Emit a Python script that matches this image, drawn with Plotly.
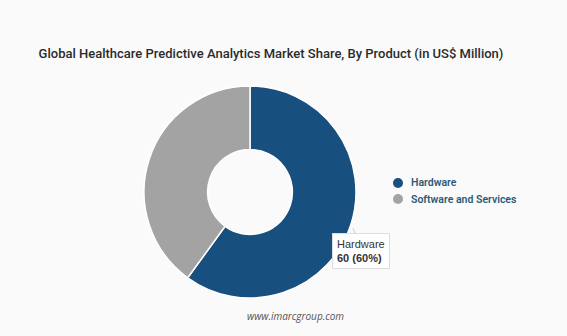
import plotly.graph_objects as go

labels = ["Hardware", "Software and Services"]
values = [60, 40]
colors = ["#174f7e", "#a3a3a3"]

W, H = 567, 336

fig = go.Figure()
fig.add_trace(go.Pie(
    labels=labels, values=values, hole=0.4, sort=False, direction="clockwise",
    rotation=0, marker=dict(colors=colors, line=dict(color="white", width=1.5)),
    textinfo="none", hoverinfo="label+value+percent", showlegend=False,
    domain=dict(x=[144/W, 356/W], y=[38/H, 250/H]),
))

fig.update_layout(
    width=W, height=H,
    margin=dict(l=0, r=0, t=0, b=0),
    paper_bgcolor="#fafafa", plot_bgcolor="#fafafa",
    title=dict(text="Global Healthcare Predictive Analytics Market Share, By Product (in US$ Million)",
               x=271/W, xanchor="center", y=1-53/H, yanchor="middle",
               font=dict(family="Roboto", size=13, color="#2b2b2b", weight=500)),
    showlegend=False,
)

# custom legend (circle markers)
for i, (lab, col) in enumerate(zip(labels, colors)):
    yc = 183 + 16 * i
    fig.add_shape(type="circle", xref="paper", yref="paper",
                  x0=(398-5)/W, x1=(398+5)/W, y0=1-(yc+5)/H, y1=1-(yc-5)/H,
                  fillcolor=col, line=dict(width=0))
    fig.add_annotation(x=409/W, y=1-yc/H, xref="paper", yref="paper", showarrow=False,
                       xanchor="left", yanchor="middle", text=lab,
                       font=dict(family="Roboto", size=10.5, color="#2a5a75", weight=600))

fig.add_annotation(
    x=353/W, y=1-228/H, xref="paper", yref="paper",
    text="Hardware<br><b>60 (60%)</b>", align="left",
    showarrow=True, arrowhead=0, arrowcolor="#cccccc", arrowwidth=1,
    ax=8, ay=23, bgcolor="white", bordercolor="#dddddd", borderwidth=1, borderpad=4,
    font=dict(family="Arial", size=11, color="#333333"),
)

fig.add_annotation(
    x=295/W, y=1-325/H, xref="paper", yref="paper", showarrow=False,
    text="<i>www.imarcgroup.com</i>",
    font=dict(family="Open Sans", size=10, color="#555555"),
)

fig.write_html("out.html")
